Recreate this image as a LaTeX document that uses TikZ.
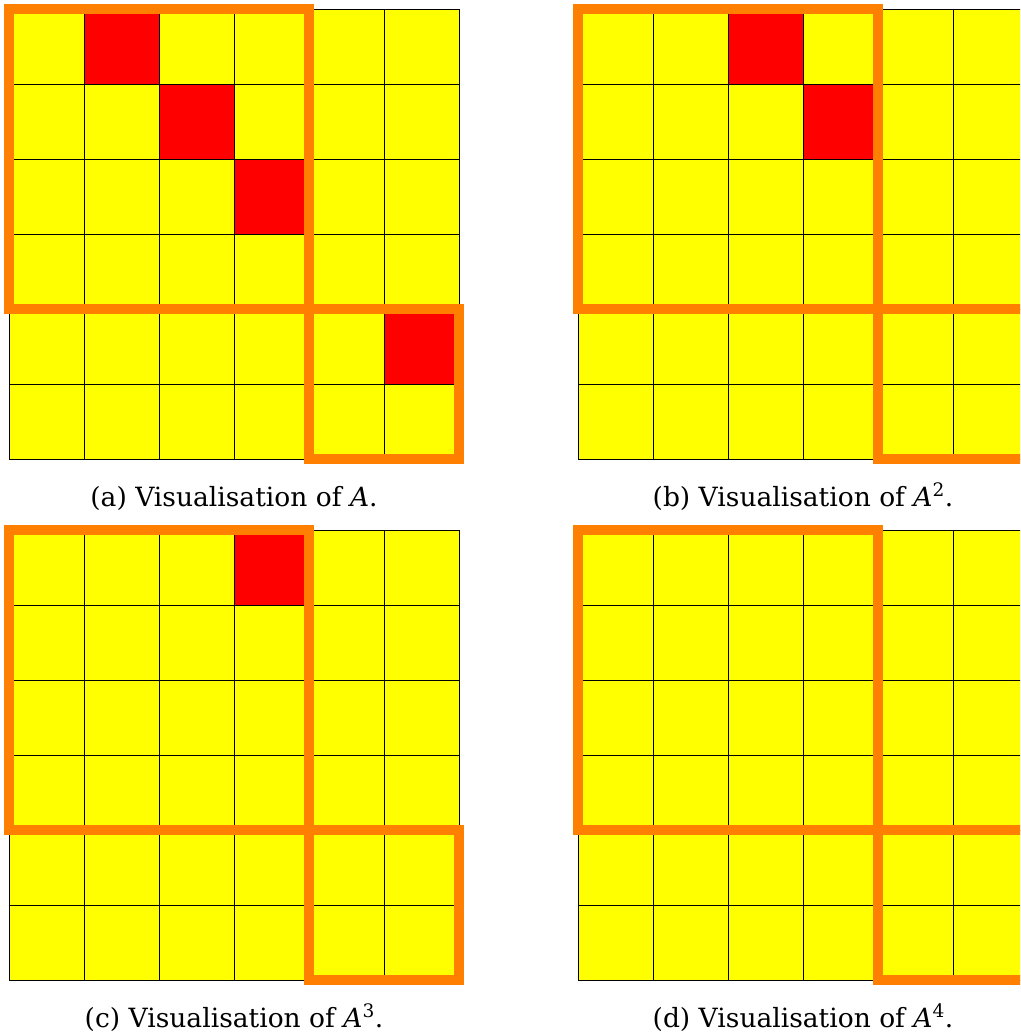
\documentclass[tikz,border=0pt]{standalone}
\usepackage{fontspec}
\setmainfont{DejaVu Serif}
\definecolor{amarillo}{RGB}{255,255,0}
\definecolor{rojo}{RGB}{255,0,0}
\definecolor{naranja}{RGB}{255,128,0}
\tikzset{
  celda/.style={fill=amarillo},
  marcada/.style={fill=rojo},
  rejilla/.style={line width=0.8pt, black},
  bloque/.style={line width=10pt, naranja},
  leyenda/.style={anchor=base, font=\fontsize{26.5}{32}\selectfont}
}
\begin{document}
\begin{tikzpicture}[x=1pt,y=-1pt]
    \useasboundingbox (0,0) rectangle (1020,1036);
    \clip (0,0) rectangle (1020,1036);
    % Paneles
    \foreach \ox/\oy/\rojas/\nom/\txt in {
        9/9/{1/0,2/1,3/2,5/4}/a/{(a) Visualisation of \textit{A}.},
        578/9/{2/0,3/1}/b/{(b) Visualisation of \textit{A}\textsuperscript{2}.},
        9/530/{3/0}/c/{(c) Visualisation of \textit{A}\textsuperscript{3}.},
        578/530/{}/d/{(d) Visualisation of \textit{A}\textsuperscript{4}.}} {
      \begin{scope}[shift={(\ox,\oy)}]
        % Celdas
        \fill[celda] (0,0) rectangle (450,450);
        \foreach \c/\r in \rojas {
          \fill[marcada] (75*\c,75*\r) rectangle ++(75,75);
        }
        \foreach \k in {0,...,6} {
          \draw[rejilla] (75*\k,0) -- (75*\k,450);
          \draw[rejilla] (0,75*\k) -- (450,75*\k);
        }
        % Bloques
        \draw[bloque] (0,0) rectangle (300,300);
        \draw[bloque] (300,300) rectangle (450,450);
        % Leyenda
        \node[leyenda] (ley\nom) at (225,497) {\txt};
      \end{scope}
    }
\end{tikzpicture}
\end{document}
